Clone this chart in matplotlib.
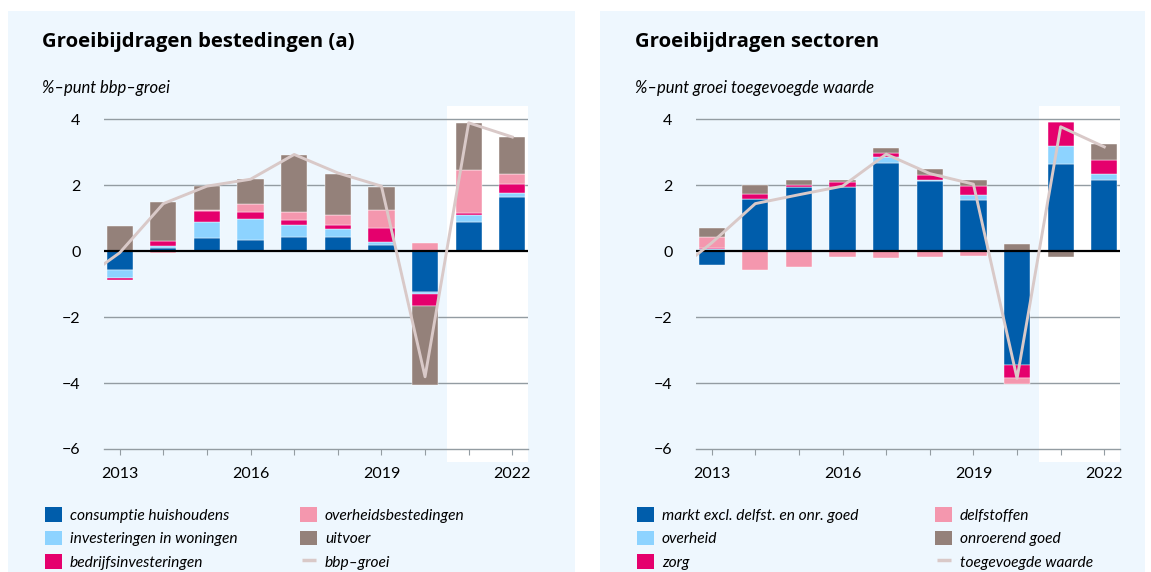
import matplotlib.pyplot as plt
from matplotlib.patches import Rectangle, Patch
from matplotlib.lines import Line2D
import numpy as np

plt.rcParams['font.family'] = ['Lato', 'DejaVu Sans']

# --- data -------------------------------------------------------------
years = [2013, 2014, 2015, 2016, 2017, 2018, 2019, 2020, 2021, 2022]
year_labels = ['2013', '', '', '2016', '', '', '2019', '', '', '2022']
line_years = [2012] + years   # line starts from 2012, clipped by the axis

# left: bestedingen
consumptie = [-0.58, 0.10, 0.40, 0.33, 0.43, 0.42, 0.20, -1.23, 0.88, 1.65]
woningen = [-0.25, 0.05, 0.47, 0.63, 0.35, 0.26, 0.09, -0.07, 0.21, 0.12]
bedrijfs = [-0.05, 0.15, 0.36, 0.23, 0.15, 0.10, 0.40, -0.37, 0.06, 0.25]
overheidsbest = [0.00, -0.07, 0.02, 0.25, 0.25, 0.30, 0.55, 0.25, 1.30, 0.31]
uitvoer = [0.76, 1.19, 0.71, 0.76, 1.72, 1.27, 0.70, -2.39, 1.42, 1.13]
bbp_groei = [-1.0, -0.05, 1.44, 1.97, 2.18, 2.93, 2.37, 1.97, -3.81, 3.89, 3.46]

# right: sectoren
markt = [-0.42, 1.57, 1.95, 1.95, 2.68, 2.12, 1.55, -3.45, 2.64, 2.15]
overheid = [0.07, 0.00, 0.00, 0.00, 0.18, 0.03, 0.15, 0.00, 0.55, 0.20]
zorg = [0.03, 0.16, 0.04, 0.15, 0.10, 0.16, 0.28, -0.41, 0.73, 0.41]
delfstoffen = [0.32, -0.56, -0.47, -0.19, -0.20, -0.17, -0.14, -0.18, 0.00, -0.03]
onroerend = [0.27, 0.27, 0.18, 0.05, 0.17, 0.18, 0.17, 0.21, -0.17, 0.48]
toegevoegd = [-0.8, 0.25, 1.44, 1.71, 1.97, 2.94, 2.35, 2.03, -3.86, 3.77, 3.16]

c_blue = '#005DAB'
c_lblue = '#8DD3FF'
c_mag = '#E5006D'
c_pink = '#F497AE'
c_brown = '#94817A'
c_line = '#D9C9C8'
c_bg = '#EEF7FE'
c_grid = '#939CA2'

fig = plt.figure(figsize=(11.51, 5.72), dpi=100, facecolor='white')
W, H = 1151, 572

# panel backgrounds
for x0, x1 in [(8, 575), (600, 1145)]:
    fig.patches.append(Rectangle((x0 / W, 0), (x1 - x0) / W, 1 - 11 / H,
                                 transform=fig.transFigure, facecolor=c_bg,
                                 edgecolor='none', zorder=-10))


def draw_panel(ax, series, colors, line_vals):
    x = np.arange(len(years))
    ax.set_facecolor('none')
    ax.set_xlim(-0.36, 9.36)
    ax.set_ylim(-6, 4.4)
    # forecast shading
    ax.axvspan(7.5, 9.36, ymin=-0.038, ymax=1, color='white', zorder=0,
               clip_on=False, lw=0)
    for y in [4, 2, -2, -4]:
        ax.axhline(y, color=c_grid, lw=1, zorder=1)
    pos = np.zeros(len(years))
    neg = np.zeros(len(years))
    for vals, col in zip(series, colors):
        v = np.array(vals)
        bottom = np.where(v >= 0, pos, neg)
        ax.bar(x, v, bottom=bottom, width=0.6, color=col, zorder=2,
               edgecolor='white', linewidth=0.3)
        pos = pos + np.where(v > 0, v, 0)
        neg = neg + np.where(v < 0, v, 0)
    ax.axhline(0, color='black', lw=1.6, zorder=3)
    lx = np.array(line_years) - years[0]
    ax.plot(lx, line_vals, color=c_line, lw=2.1, zorder=4)
    for s in ['top', 'right', 'left']:
        ax.spines[s].set_visible(False)
    ax.spines['bottom'].set_color(c_grid)
    ax.spines['bottom'].set_linewidth(1)
    ax.set_xticks(x)
    ax.set_xticklabels(year_labels, fontsize=11.5)
    ax.set_yticks([4, 2, 0, -2, -4, -6])
    ax.set_yticklabels(['4', '2', '0', '\u22122', '\u22124', '\u22126'], fontsize=11.5)
    ax.tick_params(axis='x', length=4, color=c_grid, pad=9)
    ax.tick_params(axis='y', length=0, pad=17)


axL = fig.add_axes([104 / W, 1 - 449 / H, 424 / W, 343 / H])
axR = fig.add_axes([696 / W, 1 - 449 / H, 424 / W, 343 / H])

draw_panel(axL, [consumptie, woningen, bedrijfs, overheidsbest, uitvoer],
           [c_blue, c_lblue, c_mag, c_pink, c_brown], bbp_groei)
draw_panel(axR, [markt, overheid, zorg, delfstoffen, onroerend],
           [c_blue, c_lblue, c_mag, c_pink, c_brown], toegevoegd)

# titles
title_font = ['Open Sans', 'DejaVu Sans']
fig.text(42 / W, 1 - 42 / H, 'Groeibijdragen bestedingen (a)', fontsize=14.7,
         fontweight='bold', va='center', ha='left', family=title_font)
fig.text(42 / W, 1 - 88 / H, '%\u2013punt bbp\u2013groei', fontsize=12,
         style='italic', va='center', ha='left')
fig.text(635 / W, 1 - 42 / H, 'Groeibijdragen sectoren', fontsize=14.7,
         fontweight='bold', va='center', ha='left', family=title_font)
fig.text(635 / W, 1 - 88 / H, '%\u2013punt groei toegevoegde waarde', fontsize=12,
         style='italic', va='center', ha='left')


def sq(c):
    return Patch(facecolor=c, edgecolor='none')


def ln():
    return Line2D([], [], color=c_line, marker='_', markersize=10,
                  markeredgewidth=2.5, linestyle='None')


def add_legend(x, labels, handles):
    leg = fig.legend(handles, labels, loc='upper left',
                     bbox_to_anchor=(x / W, 1 - 507 / H), frameon=False,
                     prop={'style': 'italic', 'size': 11.2},
                     handlelength=1.1, handleheight=1.1, handletextpad=0.5,
                     labelspacing=0.5, borderpad=0, borderaxespad=0)
    return leg


add_legend(45, ['consumptie huishoudens', 'investeringen in woningen',
                'bedrijfsinvesteringen'], [sq(c_blue), sq(c_lblue), sq(c_mag)])
add_legend(300, ['overheidsbestedingen', 'uitvoer', 'bbp\u2013groei'],
           [sq(c_pink), sq(c_brown), ln()])
add_legend(637, ['markt excl. delfst. en onr. goed', 'overheid', 'zorg'],
           [sq(c_blue), sq(c_lblue), sq(c_mag)])
add_legend(935, ['delfstoffen', 'onroerend goed', 'toegevoegde waarde'],
           [sq(c_pink), sq(c_brown), ln()])

fig.savefig('out.png', dpi=100, facecolor='white')
